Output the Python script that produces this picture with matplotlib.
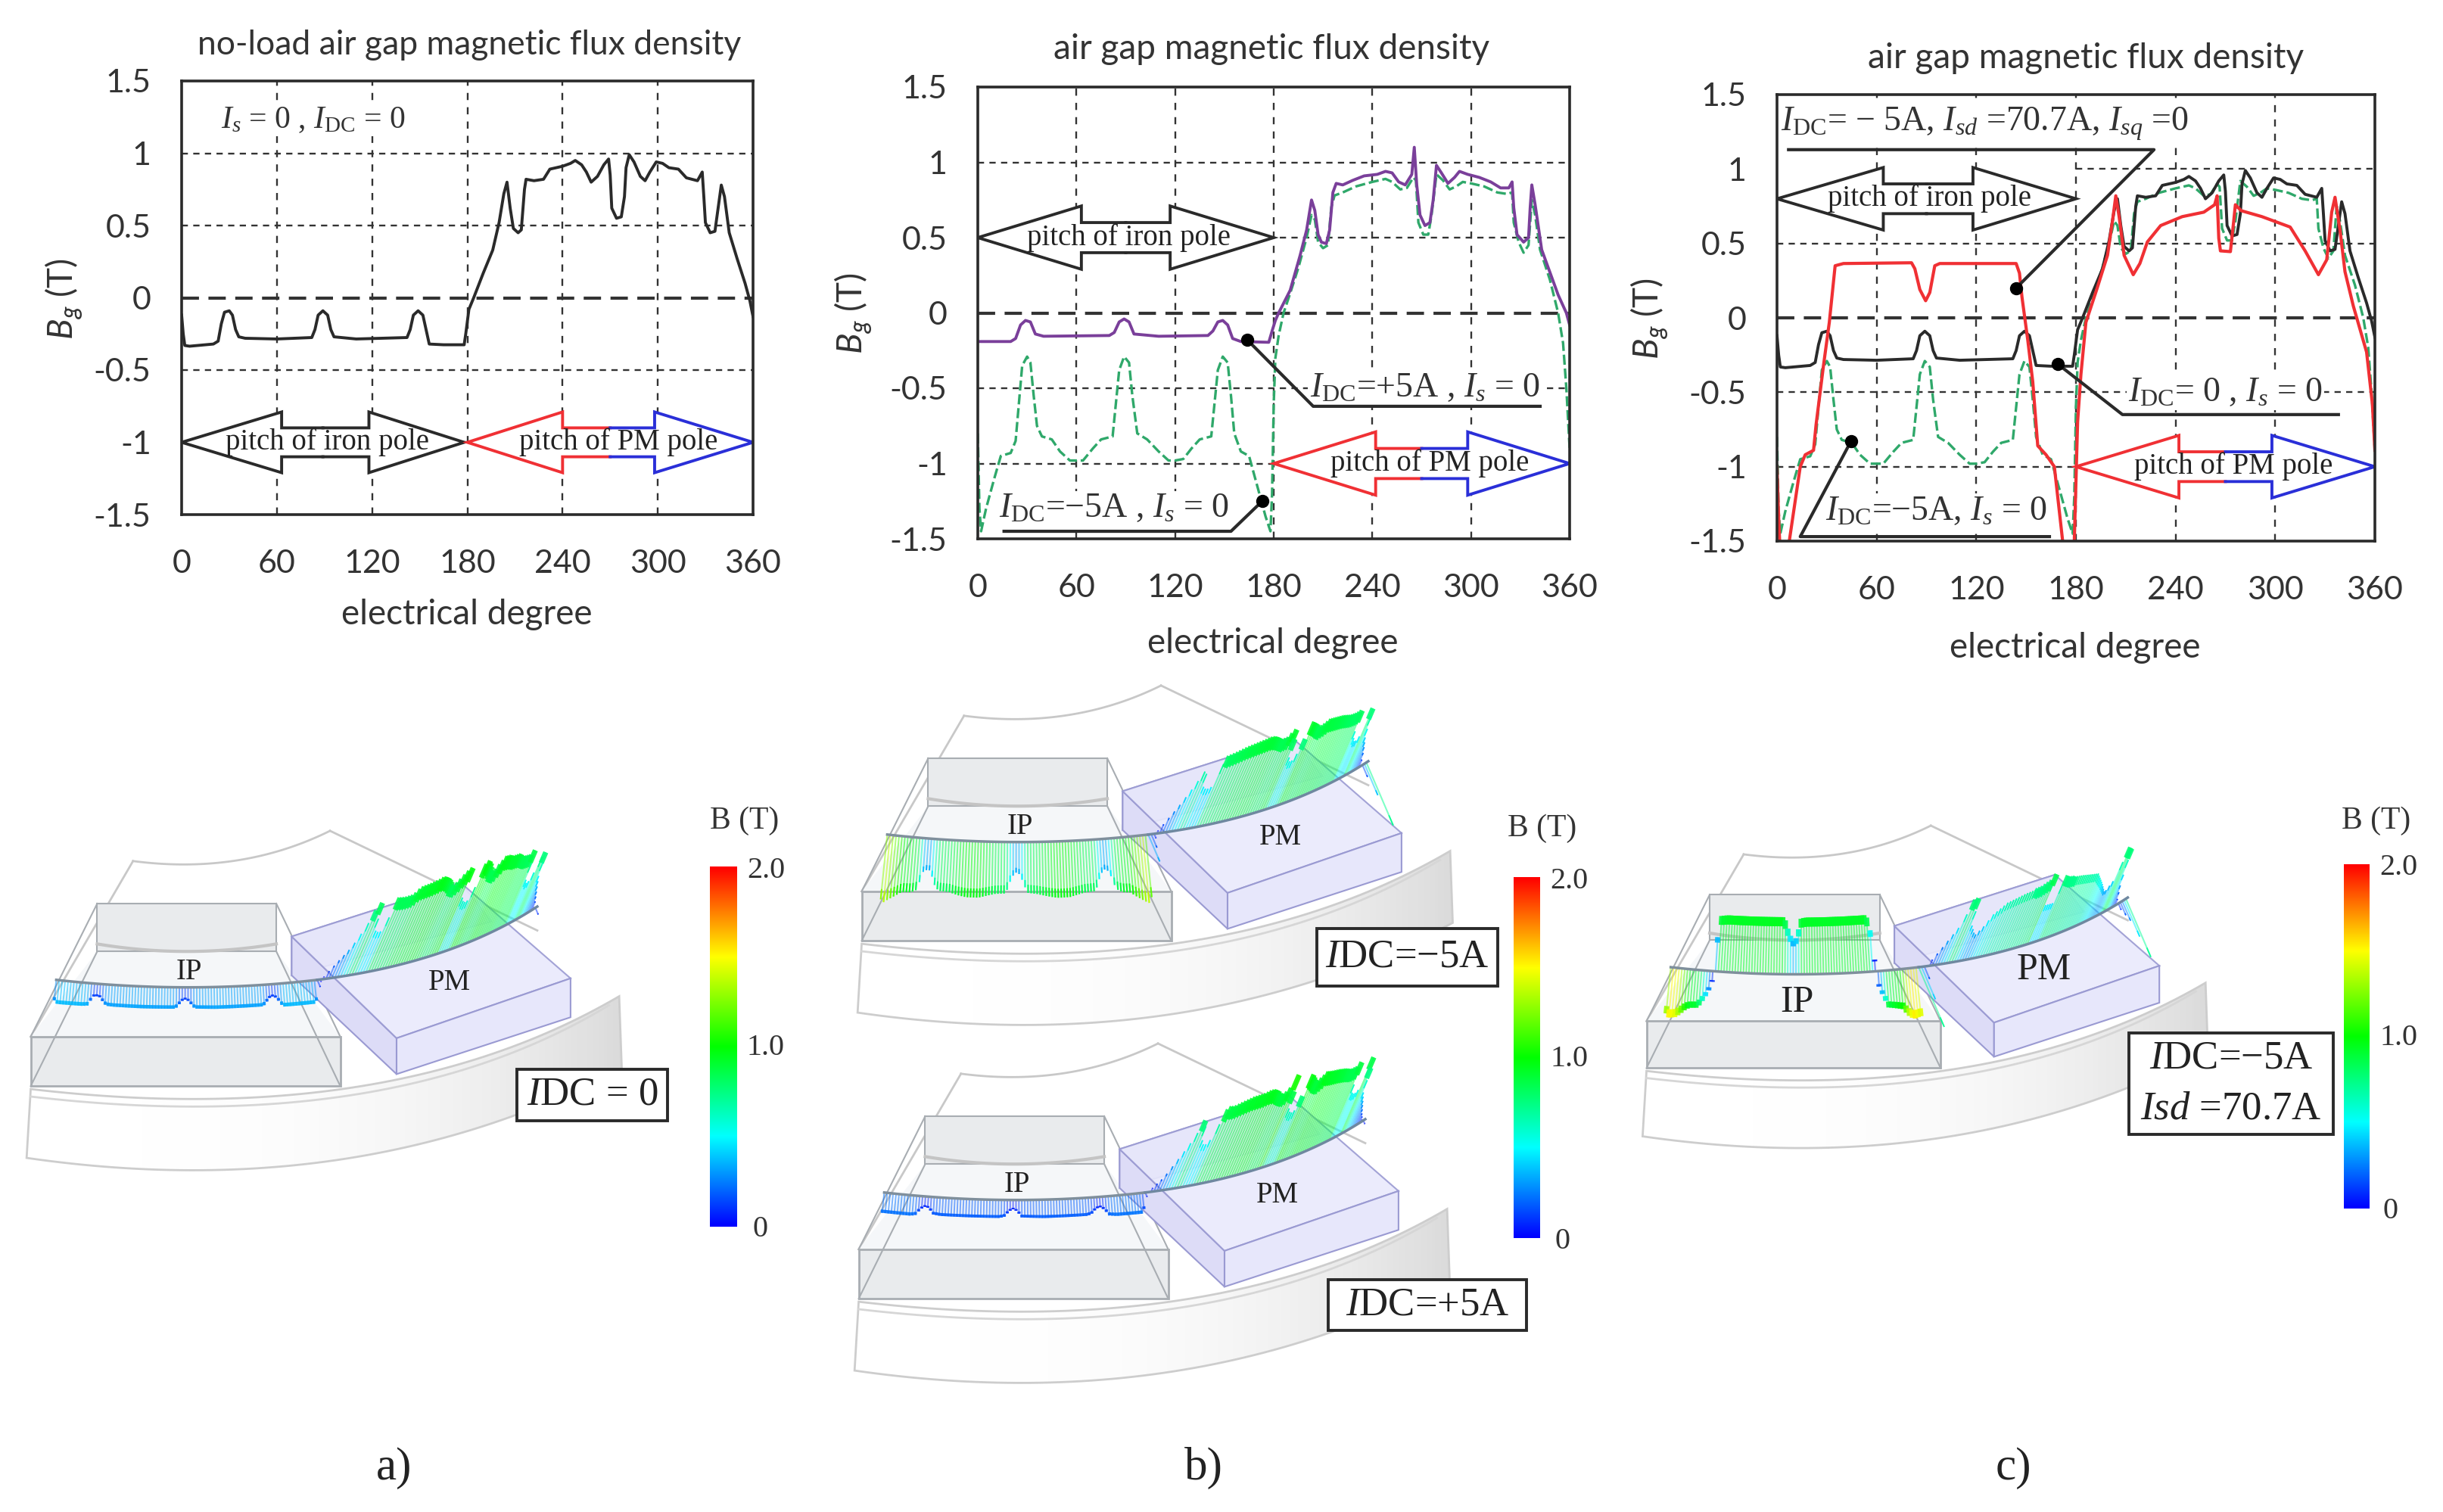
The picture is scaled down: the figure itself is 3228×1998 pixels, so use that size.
import numpy as np
from matplotlib import pyplot as plt
from matplotlib.collections import LineCollection
from matplotlib.colors import LinearSegmentedColormap
from matplotlib.patches import Polygon, Rectangle

plt.rcParams['font.family'] = ['Lato', 'DejaVu Sans']
plt.rcParams['mathtext.fontset'] = 'custom'
plt.rcParams['mathtext.rm'] = 'Liberation Serif'
plt.rcParams['mathtext.it'] = 'Liberation Serif:italic'
plt.rcParams['mathtext.sf'] = 'Lato:italic'

W, H = 3228, 1998

xTicks = [0, 60, 120, 180, 240, 300, 360]
yTicks = [-1.5, -1, -0.5, 0, 0.5, 1, 1.5]
yTickLabels = ['-1.5', '-1', '-0.5', '0', '0.5', '1', '1.5']

# IDC = 0, Is = 0
thetaNoLoad = [0, 1, 2, 5, 20, 23, 25, 27, 30, 32, 34, 36, 40, 60, 82, 84, 86, 89, 92, 94, 96, 110, 142, 144, 146, 149, 152, 154, 156,
               165, 178, 179, 181, 184, 190, 196, 200, 203, 205, 207, 209, 212, 214, 216, 217, 222, 228, 232, 240, 245, 248, 252, 255,
               258, 262, 266, 269, 270, 271, 274, 277, 279, 280, 282, 285, 289, 292, 295, 299, 303, 307, 313, 318, 325, 328, 329, 330,
               333, 336, 338, 340, 342, 345, 350, 355, 358, 360]
bNoLoad = [-0.12, -0.25, -0.33, -0.335, -0.32, -0.30, -0.18, -0.10, -0.09, -0.12, -0.22, -0.27, -0.28, -0.285, -0.275, -0.22, -0.12, -0.09,
           -0.12, -0.22, -0.27, -0.285, -0.275, -0.22, -0.12, -0.09, -0.12, -0.22, -0.32,
           -0.325, -0.325, -0.25, -0.08, 0, 0.17, 0.33, 0.52, 0.72, 0.80, 0.62, 0.48, 0.45, 0.47, 0.75, 0.82, 0.81, 0.82, 0.89, 0.91, 0.93, 0.95, 0.92, 0.87,
           0.80, 0.84, 0.92, 0.96, 0.85, 0.62, 0.55, 0.56, 0.70, 0.90, 0.99, 0.94, 0.84, 0.81, 0.87, 0.94, 0.93, 0.90, 0.89, 0.83, 0.81, 0.87, 0.70, 0.52,
           0.45, 0.46, 0.62, 0.78, 0.70, 0.45, 0.27, 0.10, -0.02, -0.13]

# IDC = +5A, Is = 0
thetaPlus5 = [0, 20, 23, 26, 29, 32, 35, 40, 80, 83, 86, 89, 92, 95, 110, 140, 143, 146, 149, 152, 155, 160, 177, 179, 181, 183, 190, 196,
              200, 203, 205, 207, 209, 212, 214, 216, 218, 222, 228, 235, 243, 248, 252, 256, 260, 264, 265.5, 267, 269, 272, 275, 277,
              279, 282, 286, 290, 293, 298, 305, 312, 318, 323, 325, 326, 328, 332, 335, 336, 337, 339, 343, 348, 353, 358, 360]
bPlus5 = [-0.19, -0.19, -0.17, -0.08, -0.05, -0.06, -0.14, -0.155, -0.15, -0.13, -0.06, -0.04, -0.06, -0.14, -0.155, -0.15, -0.12, -0.06, -0.05, -0.08, -0.17, -0.19, -0.195, -0.12, -0.05, 0, 0.15, 0.38,
          0.55, 0.75, 0.68, 0.52, 0.47, 0.46, 0.55, 0.80, 0.86, 0.85, 0.88, 0.91, 0.92, 0.94, 0.93, 0.87, 0.85, 0.92, 1.10, 0.85, 0.65, 0.58, 0.60, 0.75,
          0.98, 0.93, 0.86, 0.90, 0.94, 0.92, 0.90, 0.87, 0.83, 0.83, 0.87, 0.70, 0.52, 0.47, 0.50, 0.70, 0.85, 0.72, 0.42, 0.27, 0.12, 0, -0.08]

# IDC = -5A, Is = 0
thetaMinus5 = [0, 1, 2, 5, 10, 14, 20, 23, 25, 27, 30, 32, 34, 36, 39, 45, 50, 56, 60, 64, 70, 75, 82, 84, 86, 89, 92, 94, 97, 103, 110, 116, 120, 125, 130, 135,
               142, 144, 146, 149, 152, 154, 156, 160, 165, 170, 175, 178, 179, 180, 181, 183, 186, 190, 195, 200, 203, 205, 207, 210, 213, 215, 217,
               222, 230, 240, 248, 252, 257, 261, 265, 266.5, 268, 271, 274, 276, 279, 283, 287, 291, 295, 300, 308, 316, 322, 325, 326, 329, 332, 335,
               337, 339, 342, 348, 353, 356, 358, 360]
bMinus5 = [-0.8, -1.3, -1.45, -1.3, -1.1, -0.95, -0.93, -0.85, -0.6, -0.35, -0.29, -0.33, -0.55, -0.75, -0.82, -0.84, -0.92, -0.98, -0.98, -0.98, -0.9, -0.84, -0.82, -0.6, -0.38, -0.29, -0.33, -0.55, -0.8, -0.84, -0.92, -0.98, -0.98, -0.97, -0.9, -0.84,
           -0.82, -0.6, -0.38, -0.29, -0.33, -0.55, -0.8, -0.92, -0.95, -1.15, -1.35, -1.45, -1.2, -0.6, -0.3, -0.15, 0, 0.13, 0.3, 0.5, 0.65, 0.62, 0.47, 0.43, 0.45, 0.7, 0.78,
           0.8, 0.84, 0.87, 0.89, 0.87, 0.82, 0.83, 0.9, 0.88, 0.6, 0.52, 0.52, 0.65, 0.92, 0.88, 0.82, 0.84, 0.87, 0.86, 0.84, 0.8, 0.79, 0.8, 0.6, 0.47, 0.4, 0.45,
           0.75, 0.65, 0.42, 0.22, 0, -0.2, -0.5, -0.9]

# IDC = -5A, Isd = 70.7A, Isq = 0
thetaFlux = [0, 1, 2, 7.4, 14, 17, 22, 23.5, 28, 31.5, 35, 40, 81, 83, 86, 89.5, 92, 95, 98, 144, 146, 147.5, 151, 154, 157, 162, 167, 172, 175, 179, 181, 183, 186,
             192.5, 199, 202, 204, 206, 209, 214.5, 218.5, 223, 231, 244, 257, 263.5, 265, 266, 267, 273, 275, 276, 279.5, 292, 309, 318, 326, 331, 334,
             336, 339, 342, 347, 355, 358.5, 360]
bFlux = [-1.0, -1.35, -1.6, -1.5, -1.0, -0.92, -0.89, -0.72, -0.32, -0.03, 0.35, 0.365, 0.37, 0.33, 0.19, 0.115, 0.17, 0.35, 0.365, 0.365, 0.3, 0.14, -0.15, -0.43, -0.86, -0.92, -1.0, -1.5, -1.6, -1.5, -0.7, -0.38, -0.03,
         0.19, 0.42, 0.65, 0.82, 0.68, 0.42, 0.29, 0.365, 0.51, 0.62, 0.68, 0.71, 0.76, 0.82, 0.535, 0.45, 0.445, 0.65, 0.76, 0.72, 0.68, 0.61, 0.45, 0.29, 0.39, 0.71,
         0.81, 0.59, 0.31, 0.08, -0.23, -0.58, -0.89]

BLACK = '#2a2a2a'
GREEN = '#2fa86a'
PURPLE = '#7a3f9a'
RED = '#f03034'
BLUE = '#2a2fd8'
ZX, ZY = 1.479, 2.529
SERIF = ['Liberation Serif', 'DejaVu Serif']

# the B scale of the field plots: blue, cyan, green, yellow, red
fieldCmap = LinearSegmentedColormap.from_list('field', ['#0000ff', '#00ffff', '#00ff00', '#ffff00', '#ff0000'])


def bez(p0, c, p1, n=60):
    t = np.linspace(0, 1, n)[:, None]
    return (1-t)**2*np.array(p0) + 2*t*(1-t)*np.array(c) + t**2*np.array(p1)


def addAxes(fig, left, right, top, bottom):
    ax = fig.add_axes([left/W, 1-bottom/H, (right-left)/W, (bottom-top)/H])
    ax.set_xlim(0, 360)
    ax.set_ylim(-1.5, 1.5)
    ax.set_xticks(xTicks)
    ax.set_yticks(yTicks)
    ax.set_yticklabels(yTickLabels)
    ax.tick_params(length=0, labelsize=31, pad=29, colors='#333333')
    ax.tick_params(axis='x', pad=33)
    for s in ax.spines.values():
        s.set_linewidth(2.6)
        s.set_color(BLACK)
        s.set_zorder(8)
    return ax


def addGrid(ax, oneFrom=0):
    for x in xTicks[1:-1]:
        ax.plot([x, x], [-1.5, 1.5], color='#333333', lw=1.7, dashes=(4, 4), zorder=1)
    for y in [-1, -0.5, 0.5, 1]:
        ax.plot([oneFrom if y == 1 else 0, 360], [y, y], color='#333333', lw=1.7, dashes=(3.5, 3), zorder=1)
    ax.plot([0, 360], [0, 0], color='#333333', lw=3, dashes=(5.5, 3), zorder=1)


def doubleArrow(ax, x0, x1, y, in0, in1, leftCol, rightCol):
    mid = (x0+x1)/2
    xs = [mid, in0, in0, x0, in0, in0, mid]
    ys = [y+0.1, y+0.1, y+0.21, y, y-0.21, y-0.1, y-0.1]
    xr = [mid, in1, in1, x1, in1, in1, mid]
    ax.add_patch(Polygon(np.column_stack([xs+xr[::-1], ys+ys[::-1]]), closed=True, fc='white', ec='none', zorder=4))
    ax.plot(xs, ys, color=leftCol, lw=2.8, zorder=5, solid_joinstyle='miter')
    ax.plot(xr, ys, color=rightCol, lw=2.8, zorder=5, solid_joinstyle='miter')


def pitchText(ax, x, y, txt):
    ax.text(x, y, txt, family=SERIF, fontsize=28, color='#222222', ha='center', va='center', zorder=6)


def note(ax, x, y, txt, size=33):
    ax.text(x, y, txt, family=SERIF, fontsize=size, color='#333333', ha='center', va='center', zorder=6,
            bbox=dict(fc='white', ec='none', pad=1.5))


def leader(ax, xs, ys, dot):
    ax.plot(xs, ys, color=BLACK, lw=3, zorder=7, clip_on=False, solid_capstyle='butt')
    ax.plot([dot[0]], [dot[1]], 'o', color='black', ms=11.5, zorder=7, clip_on=False)


def fieldLines(ov, tf, theta, b, down, up, pm, colUp, tipIron):
    shafts, tips, cols, tipWidths = [], [], [], []
    ironArc = bez((110, 695), (370, 745), (620, 695), 91)
    pmArc = bez((620, 695), (880, 640), (1050, 450), 91)
    for a in np.arange(1, 360, 2.0):
        v = float(np.interp(a, theta, b))
        mag = np.sqrt(abs(v))
        c = 0.5*abs(v)**0.9
        if a < 180:
            base = ironArc[int(a/2)]
            t = a/180-0.5
            d = np.array([0.12*t, 1.0]) if v < 0 else np.array([-0.12*t, -1.0])
            d = d*(down if v < 0 else up)*mag
            if v > 0:
                c = c*colUp
            tipLw = tipIron
        else:
            base = pmArc[int((a-180)/2)]
            d = np.array([0.25, -1.0]) if v > 0 else np.array([0.25, 1.0])
            d = d*pm*abs(v)
            tipLw = 5 if abs(v) > 0.7 else 1.2
        shafts.append(tf(np.array([base, base+d])))
        tips.append(tf(np.array([base+0.84*d, base+d])))
        cols.append(fieldCmap(min(c, 1.0)))
        tipWidths.append(tipLw)
    ov.add_collection(LineCollection(shafts, colors=cols, linewidths=1.5, alpha=0.5, zorder=5))
    ov.add_collection(LineCollection(tips, colors=cols, linewidths=tipWidths, alpha=0.9, zorder=5))


def motor(ov, ox, oy, s, theta, b, down, up, pm, colUp=1.0, tipIron=3, ipZy=670, fontSize=28):
    def tf(p):
        p = np.asarray(p, dtype=float)
        return np.column_stack([ox+s*p[:, 0]/ZX, oy+s*p[:, 1]/ZY])

    def poly(p, fc, ec, lw=1.5, z=2, alpha=1.0):
        ov.add_patch(Polygon(tf(p), closed=True, fc=fc, ec=ec, lw=lw, zorder=z, alpha=alpha))

    def line(p, col='#c8c8c8', lw=2, z=2):
        q = tf(p)
        ov.plot(q[:, 0], q[:, 1], color=col, lw=lw, zorder=z)

    # back iron ring, white to grey on the right side
    yokeTop = bez((60, 1060), (760, 1200), (1210, 750))
    yokeBottom = bez((52, 1290), (700, 1450), (1215, 990))
    yoke = np.vstack([yokeTop, yokeBottom[::-1]])
    q = tf(yoke)
    patch = Polygon(q, closed=True, fc='none', ec='#cdcdcd', lw=2, zorder=2)
    ov.add_patch(patch)
    grad = np.linspace(0, 1, 200)[None, :]**3
    im = ov.imshow(grad, extent=[q[:, 0].min(), q[:, 0].max(), q[:, 1].max(), q[:, 1].min()], cmap='gray_r',
                   vmin=-0.02, vmax=7, aspect='auto', zorder=1.5)
    im.set_clip_path(patch)
    line(bez((60, 1085), (760, 1225), (1190, 780)), '#d6d6d6', 2)

    # stator tooth outline
    line([(60, 885), (260, 298)])
    line(bez((260, 298), (470, 345), (645, 197)))
    line([(645, 197), (1050, 530)])

    # iron pole
    poly([(190, 600), (540, 600), (665, 885), (60, 885)], '#f5f7f9', 'none', 0)
    poly([(190, 440), (540, 440), (540, 600), (190, 600)], '#e9ebed', '#a8adb2')
    poly([(60, 885), (665, 885), (665, 1050), (60, 1050)], '#e9ebed', '#a8adb2', 2)
    line([(190, 440), (60, 885)], '#a8adb2', 1.5)
    line([(540, 440), (665, 885)], '#a8adb2', 1.5)
    line([(190, 600), (60, 1050)], '#a8adb2', 1.5)
    line([(540, 600), (665, 1050)], '#a8adb2', 1.5)
    line(bez((190, 575), (365, 625), (540, 575)), '#c4c4c4', 3)

    # permanent magnet
    poly([(570, 550), (900, 370), (960, 500), (570, 680)], '#d0d0f2', '#9a9ad2', z=3)
    poly([(570, 550), (775, 890), (775, 1010), (570, 680)], '#dddcf7', '#9a9ad2', z=3)
    poly([(900, 370), (1115, 690), (775, 890), (570, 550)], '#e9e9fc', '#9a9ad2', z=3, alpha=0.9)
    poly([(775, 890), (1115, 690), (1115, 820), (775, 1010)], '#e7e7fb', '#9a9ad2', z=3)

    # flux density vectors along the air gap
    fieldLines(ov, tf, theta, b, down, up, pm, colUp, tipIron)
    line(bez((110, 695), (370, 745), (620, 695)), '#7f8f9c', 2.5, 6)
    line(bez((620, 695), (880, 640), (1050, 450)), '#6f88a0', 2.5, 6)

    ip = tf([(370, ipZy), (878, 705)])
    ov.text(ip[0, 0], ip[0, 1], 'IP', family=SERIF, fontsize=fontSize, color='#222222', ha='center', va='center', zorder=7)
    ov.text(ip[1, 0], ip[1, 1], 'PM', family=SERIF, fontsize=fontSize, color='#222222', ha='center', va='center', zorder=7)


def colourBar(ov, left, right, top, bottom, labelX, titleX, titleY, zeroX):
    grad = np.linspace(1, 0, 256)[:, None]
    ov.imshow(grad, extent=[left, right, bottom, top], cmap=fieldCmap, aspect='auto', zorder=3)
    mid = (top+bottom)/2
    style = dict(family=SERIF, fontsize=29, color='#333333', va='center', ha='center')
    ov.text(labelX, top+5, '2.0', **style)
    ov.text(labelX, mid+2, '1.0', **style)
    ov.text(zeroX, bottom+4, '0', **style)
    ov.text(titleX, titleY, 'B (T)', **dict(style, fontsize=30))


def labelBox(ov, left, right, top, bottom, lines):
    ov.add_patch(Rectangle((left, top), right-left, bottom-top, fc='white', ec='#2a2a2a', lw=2.8, zorder=8))
    step = (bottom-top)/len(lines)
    for i, txt in enumerate(lines):
        ov.text((left+right)/2, top+step*(i+0.5), txt, family=SERIF, fontsize=38, color='#222222', ha='center', va='center', zorder=9)


fig = plt.figure(figsize=(W/100, H/100), dpi=100)

ov = fig.add_axes([0, 0, 1, 1])
ov.set_axis_off()

# panel a
axA = addAxes(fig, 240, 995, 107, 680)
addGrid(axA)
axA.plot(thetaNoLoad, bNoLoad, color=BLACK, lw=2.8, zorder=3)
doubleArrow(axA, 0, 178, -1, 63, 118, BLACK, BLACK)
doubleArrow(axA, 180, 360, -1, 240, 298, RED, BLUE)
pitchText(axA, 92, -1, 'pitch of iron pole')
pitchText(axA, 275, -1, 'pitch of PM pole')
note(axA, 83, 1.23, r'$\mathit{I_s}$ = 0 , $\mathit{I}_{\mathrm{DC}}$ = 0', 30)

# panel b
axB = addAxes(fig, 1292, 2074, 115, 712)
addGrid(axB)
axB.plot(thetaMinus5, bMinus5, color=GREEN, lw=2.4, dashes=(4, 1.5), zorder=3)
axB.plot(thetaPlus5, bPlus5, color=PURPLE, lw=2.8, zorder=3)
doubleArrow(axB, 0, 180, 0.5, 63, 117, BLACK, BLACK)
doubleArrow(axB, 180, 360, -1, 242, 298, RED, BLUE)
pitchText(axB, 92, 0.5, 'pitch of iron pole')
pitchText(axB, 275, -1, 'pitch of PM pole')
note(axB, 272, -0.5, r'$\mathit{I}_{\mathrm{DC}}$=+5A , $\mathit{I_s}$ = 0')
leader(axB, [164, 204, 343], [-0.18, -0.62, -0.62], (164, -0.18))
note(axB, 83, -1.3, r'$\mathit{I}_{\mathrm{DC}}$=$-$5A , $\mathit{I_s}$ = 0')
leader(axB, [15, 154, 173], [-1.45, -1.45, -1.25], (173, -1.25))

# panel c
axC = addAxes(fig, 2348, 3138, 125, 715)
addGrid(axC, oneFrom=180)
axC.plot(thetaMinus5, bMinus5, color=GREEN, lw=2.4, dashes=(4, 1.5), zorder=3)
axC.plot(thetaNoLoad, bNoLoad, color=BLACK, lw=2.8, zorder=3)
axC.plot(thetaFlux, bFlux, color=RED, lw=3, zorder=3)
doubleArrow(axC, 0, 180, 0.8, 64, 118, BLACK, BLACK)
doubleArrow(axC, 180, 360, -1, 242, 298, RED, BLUE)
pitchText(axC, 92, 0.8, 'pitch of iron pole')
pitchText(axC, 275, -1, 'pitch of PM pole')
note(axC, 125, 1.3, r'$\mathit{I}_{\mathrm{DC}}$= $-$ 5A, $\mathit{I_{sd}}$ =70.7A, $\mathit{I_{sq}}$ =0')
leader(axC, [6, 227, 144], [1.13, 1.13, 0.2], (144, 0.2))
note(axC, 270, -0.5, r'$\mathit{I}_{\mathrm{DC}}$= 0 , $\mathit{I_s}$ = 0')
leader(axC, [169, 208, 339], [-0.31, -0.65, -0.65], (169, -0.31))
note(axC, 96, -1.3, r'$\mathit{I}_{\mathrm{DC}}$=$-$5A, $\mathit{I_s}$ = 0')
leader(axC, [44.5, 14, 165], [-0.83, -1.47, -1.47], (44.5, -0.83))

# titles and axis labels are placed by pixel, the three panels do not line up
titleStyle = dict(fontsize=33, color='#333333', ha='center', va='center')
ov.text(620, 59, 'no-load air gap magnetic flux density', **dict(titleStyle, fontsize=32))
ov.text(1680, 65, 'air gap magnetic flux density', **titleStyle)
ov.text(2756, 77, 'air gap magnetic flux density', **titleStyle)
ov.text(617, 812, 'electrical degree', **titleStyle)
ov.text(1682, 850, 'electrical degree', **titleStyle)
ov.text(2742, 856, 'electrical degree', **titleStyle)
ov.text(85, 395, r'$\mathsf{B_g}$ (T)', rotation=90, **titleStyle)
ov.text(1128, 414, r'$\mathsf{B_g}$ (T)', rotation=90, **titleStyle)
ov.text(2180, 421, r'$\mathsf{B_g}$ (T)', rotation=90, **titleStyle)

# field plots
motor(ov, 0, 1020, 1.0, thetaNoLoad, bNoLoad, 137, 137, 300)
motor(ov, 1098, 828, 1.0, thetaMinus5, bMinus5, 190, 190, 300, tipIron=1.5)
motor(ov, 1094, 1301, 1.0, thetaPlus5, bPlus5, 156, 156, 300)
motor(ov, 2137, 1017, 0.95, thetaFlux, bFlux, 140, 330, 300, colUp=2.3, tipIron=5, ipZy=820, fontSize=36)

colourBar(ov, 938, 974, 1145, 1621, 1012, 984, 1085, 1004)
colourBar(ov, 2000, 2035, 1159, 1636, 2073, 2038, 1095, 2065)
colourBar(ov, 3097, 3131, 1142, 1597, 3169, 3140, 1085, 3159)

boxI = r'$\mathit{I}\mathrm{DC}$'
labelBox(ov, 683, 882, 1413, 1481, [boxI+' = 0'])
labelBox(ov, 1740, 1979, 1227, 1303, [boxI+'=$-$5A'])
labelBox(ov, 1755, 2017, 1691, 1758, [boxI+'=+5A'])
labelBox(ov, 2813, 3083, 1365, 1499, [boxI+'=$-$5A', r'$\mathit{Isd}$ =70.7A'])

captionStyle = dict(family=SERIF, fontsize=44, color='#222222', ha='center', va='center')
ov.text(521, 1940, 'a)', **captionStyle)
ov.text(1590, 1940, 'b)', **captionStyle)
ov.text(2660, 1940, 'c)', **captionStyle)

ov.set_xlim(0, W)
ov.set_ylim(H, 0)

fig.savefig('out.png', dpi=100, facecolor='white')
